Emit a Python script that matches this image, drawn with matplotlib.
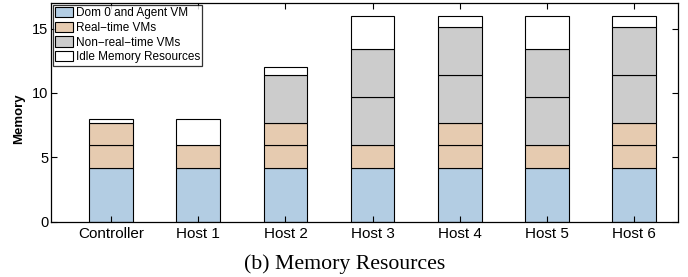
import matplotlib
matplotlib.use("Agg")
import matplotlib.pyplot as plt
from matplotlib.patches import Patch

hosts = ["Controller", "Host 1", "Host 2", "Host 3", "Host 4", "Host 5", "Host 6"]
# segment sizes per host (each VM drawn as its own stacked segment)
dom0 = [4.2, 4.2, 4.2, 4.2, 4.2, 4.2, 4.2]
rt_vms = [[1.75, 1.75], [1.75], [1.75, 1.75], [1.75], [1.75, 1.75], [1.75], [1.75, 1.75]]
nrt_vms = [[], [], [3.72], [3.72, 3.72], [3.72, 3.72], [3.72, 3.72], [3.72, 3.72]]
totals = [8, 8, 12, 16, 16, 16, 16]

series_names = ["Dom 0 and Agent VM", "Real\u2212time VMs", "Non\u2212real\u2212time VMs", "Idle Memory Resources"]
colors = ["#b3cde3", "#e6cbb0", "#cccccc", "#ffffff"]

plt.rcParams['font.family'] = ['Liberation Sans', 'DejaVu Sans']

fig = plt.figure(figsize=(6.88, 2.77), dpi=100)
ax = fig.add_axes([0.0741, 0.1996, 0.985 - 0.0741, 0.990 - 0.1996])

width = 0.5
for i, h in enumerate(hosts):
    x = i + 1
    bottom = 0.0
    segs = [(dom0[i], colors[0])]
    segs += [(v, colors[1]) for v in rt_vms[i]]
    segs += [(v, colors[2]) for v in nrt_vms[i]]
    used = sum(s for s, _ in segs)
    segs.append((totals[i] - used, colors[3]))
    for val, c in segs:
        ax.bar(x, val, width, bottom=bottom, color=c, edgecolor="black", linewidth=0.8)
        bottom += val

ax.set_xlim(0.31, 7.5)
ax.set_ylim(0, 17)
ax.set_xticks(range(1, len(hosts) + 1))
ax.set_xticklabels(hosts, fontsize=11)
ax.set_yticks([0, 5, 10, 15])
ax.tick_params(axis='y', labelsize=10.5, pad=2)
ax.tick_params(axis='x', pad=4)
ax.tick_params(direction='in', top=True, right=True, length=4, width=0.8)
for s in ax.spines.values():
    s.set_linewidth(0.9)
ax.set_ylabel("Memory", fontsize=9.5, fontweight='bold')
ax.yaxis.set_label_coords(-0.0415, 0.47)

handles = [Patch(facecolor=c, edgecolor='black', linewidth=0.8) for c in colors]
leg = ax.legend(handles, series_names, loc='upper left', fontsize=8.5, frameon=True,
                fancybox=False, edgecolor='black', borderpad=0.2, labelspacing=0.22,
                handlelength=1.5, handleheight=0.95, handletextpad=0.25,
                borderaxespad=0.15)
leg.get_frame().set_linewidth(0.9)

fig.text(0.5015, 0.045, "(b) Memory Resources", ha='center', va='center',
         fontsize=15.7, family=['Liberation Serif', 'DejaVu Serif'])

fig.savefig("out.png", dpi=100)
